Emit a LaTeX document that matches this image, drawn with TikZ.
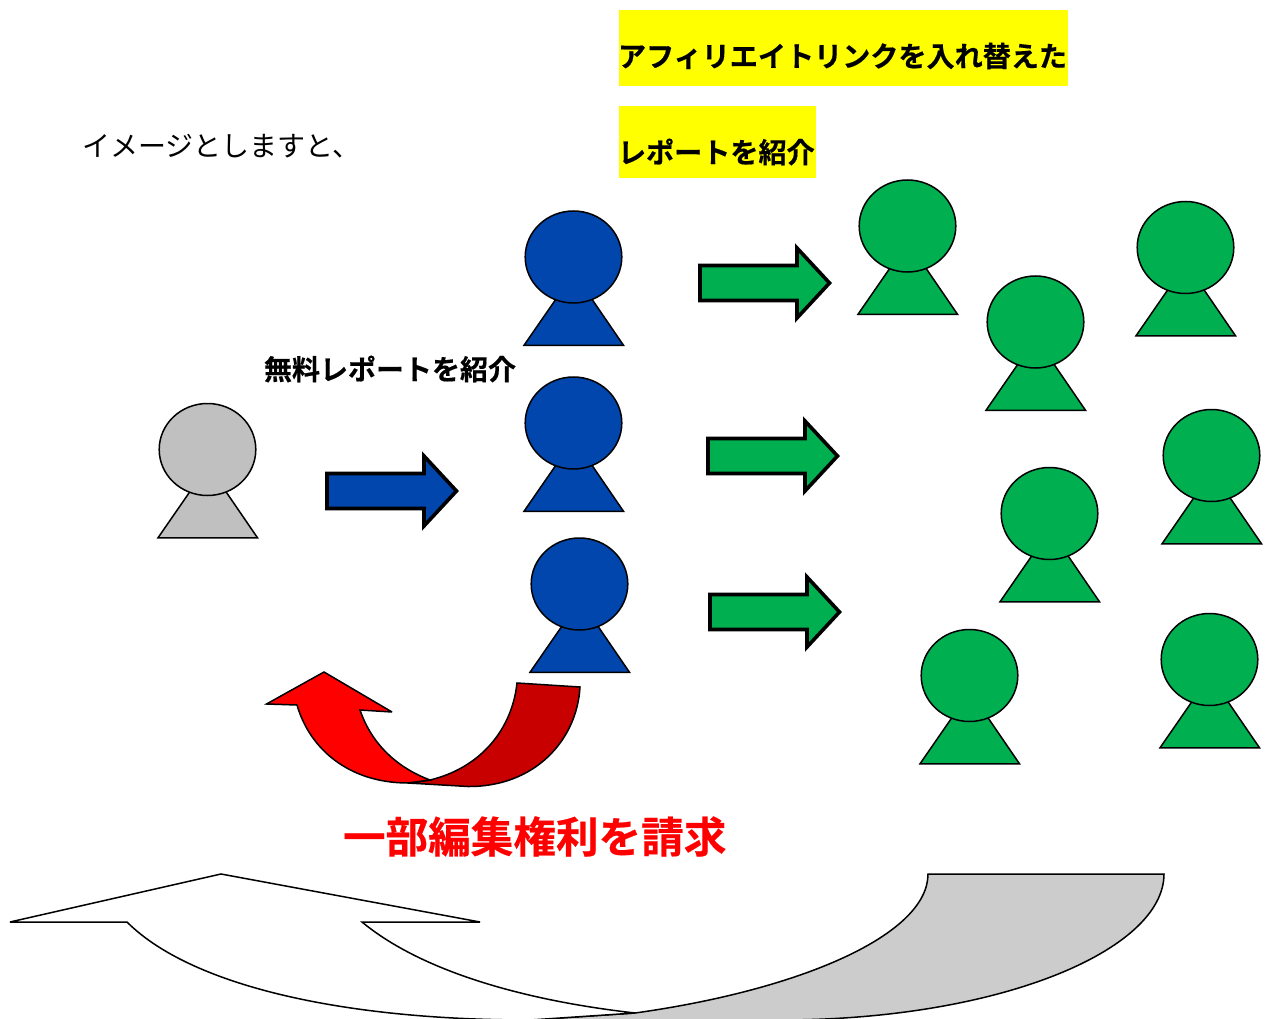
\documentclass[tikz,border=0pt]{standalone}
\usepackage{fontspec}
\newfontfamily\jpr{Noto Sans CJK JP}
\newfontfamily\jpb[FakeBold=0.5]{Noto Sans CJK JP Bold}
\definecolor{pblue}{HTML}{0046AD}
\definecolor{pgreen}{HTML}{00B050}
\definecolor{pgrey}{HTML}{C0C0C0}
\definecolor{darkred}{HTML}{C80000}
\definecolor{lgrey}{HTML}{CCCCCC}
\definecolor{hlyellow}{HTML}{FFFF00}
\definecolor{purered}{HTML}{FF0000}
\tikzset{
  outl/.style={draw=black,line width=1.5pt,line join=miter,miter limit=4},
  blockarrow/.style={draw=black,line width=3.6pt,line join=miter,miter limit=10},
  lab/.style={inner sep=0pt,outer sep=0pt,anchor=center},
  hl/.style={fill=hlyellow,draw=none}
}
% person at circle centre (#1,#2) with colour #3
\newcommand{\figperson}[3]{%
  \begin{scope}[shift={(#1,#2)}]
    \path[outl,fill=#3] (0.5,16) -- (-49.5,88.3) -- (50,88.3) -- cycle;
    \path[outl,fill=#3] (0,0) ellipse [x radius=48.3,y radius=46];
  \end{scope}}
% block arrow: left x #1, centre y #2, fill #3
\newcommand{\figarrow}[3]{%
  \begin{scope}[shift={(#1,#2)}]
    \path[blockarrow,fill=#3] (0,-17.5) -- (97,-17.5) -- (97,-35) -- (129.5,0) -- (97,35) -- (97,17.5) -- (0,17.5) -- cycle;
  \end{scope}}
\begin{document}
\begin{tikzpicture}[x=1pt,y=-1pt]
\useasboundingbox (0,0) rectangle (1267,1019);
\clip (0,0) rectangle (1267,1019);
% yellow highlights
\fill[hl] (619,10) rectangle (1068,86);
\fill[hl] (619,106) rectangle (816,178);
\node[lab,anchor=west,font=\jpb\fontsize{28.1}{28}\selectfont] (t1) at (618,56) {アフィリエイトリンクを入れ替えた};
\node[lab,anchor=west,font=\jpb\fontsize{28.1}{28}\selectfont] (t2) at (618,152) {レポートを紹介};
\node[lab,anchor=west,font=\jpr\fontsize{28}{28}\selectfont] (t3) at (82,146) {イメージとしますと、};
\node[lab,anchor=west,font=\jpb\fontsize{28}{28}\selectfont] (t4) at (264,369) {無料レポートを紹介};
\node[lab,anchor=west,text=purered,font=\jpb\fontsize{42.6}{43}\selectfont] (t5) at (343,836.5) {一部編集権利を請求};
% persons
\figperson{207.5}{449.5}{pgrey}
\figperson{573.5}{257}{pblue}
\figperson{573.5}{423}{pblue}
\figperson{579.5}{584}{pblue}
\figperson{907.5}{226}{pgreen}
\figperson{1035.5}{322}{pgreen}
\figperson{1185.5}{247.5}{pgreen}
\figperson{1211.5}{455.5}{pgreen}
\figperson{1049.5}{513.5}{pgreen}
\figperson{1209.5}{659.5}{pgreen}
\figperson{969.5}{675.5}{pgreen}
% block arrows
\figarrow{327}{491}{pblue}
\figarrow{700}{283}{pgreen}
\figarrow{708}{456}{pgreen}
\figarrow{710}{612}{pgreen}
% red curved arrow
\path[outl,fill=darkred] (517,683) .. controls (512,730) and (480,768) .. (430,780) -- (408,783)
  -- (468,786.5) .. controls (535,787) and (577,740) .. (580,687) -- cycle;
\path[outl,fill=purered] (266.5,704) -- (324,672) -- (392,712) -- (360,710)
  .. controls (372,745) and (398,768) .. (430,780) -- (408,783)
  .. controls (350,783) and (310,750) .. (297,705) -- cycle;
% bottom curved arrow
\path[outl,fill=lgrey] (928,874) .. controls (928,935) and (800,990) .. (635,1013)
  -- (530,1020) -- (780,1020) .. controls (1000,1020) and (1164,950) .. (1164,874) -- cycle;
\path[outl,fill=white] (10,922) -- (221,874) -- (480,922) -- (362,922)
  .. controls (420,970) and (520,1000) .. (635,1013) -- (530,1020)
  .. controls (340,1020) and (190,985) .. (127,922) -- cycle;
\end{tikzpicture}
\end{document}
